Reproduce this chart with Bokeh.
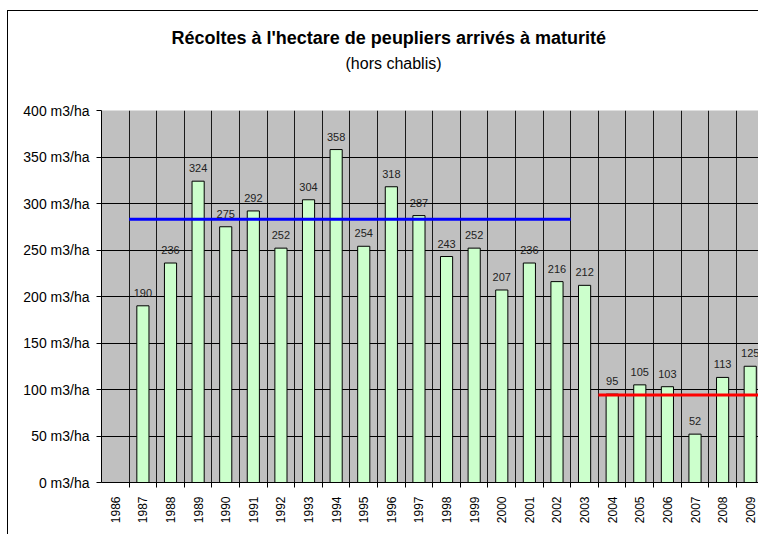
import math
from bokeh.plotting import figure
from bokeh.models import (Range1d, FixedTicker, PrintfTickFormatter, ColumnDataSource,
                          Title, LabelSet, InlineStyleSheet)
from bokeh.core.properties import value
from bokeh.embed import file_html
from bokeh.resources import INLINE

# ---- data ----
years = [str(y) for y in range(1986, 2010)]
bar_years = [str(y) for y in range(1987, 2010)]
harvest = [190, 236, 324, 275, 292, 252, 304, 358, 254, 318, 287, 243, 252,
           207, 236, 216, 212, 95, 105, 103, 52, 113, 125]
y_ticks = [0, 50, 100, 150, 200, 250, 300, 350, 400]
blue_period = ("1987", "2003")
blue_value = 283
red_period = ("2004", "2009")
red_value = 94

title_text = "Récoltes à l'hectare de peupliers arrivés à maturité"
subtitle_text = "(hors chablis)"

FONT = "Liberation Sans"

idx = {y: i for i, y in enumerate(years)}
bx = [idx[y] for y in bar_years]
src = ColumnDataSource(dict(x=bx, top=harvest, lab=[str(v) for v in harvest]))

p = figure(width=758, height=534, output_backend="svg", toolbar_location=None,
           x_range=Range1d(-0.5, 23.3), y_range=Range1d(0, 400),
           min_border_left=101, min_border_right=0, min_border_top=110,
           min_border_bottom=52)
p.background_fill_color = "#C0C0C0"
p.border_fill_color = "white"
p.outline_line_color = None

# grids
centers = list(range(len(years)))
bounds = [i + 0.5 for i in range(len(years))]
p.xaxis.ticker = FixedTicker(ticks=centers, minor_ticks=bounds)
p.xaxis.major_label_overrides = {i: y for i, y in enumerate(years)}
p.xgrid.ticker = FixedTicker(ticks=centers, minor_ticks=bounds)
p.xgrid.grid_line_color = None
p.xgrid.minor_grid_line_color = "#1a1a1a"
p.xgrid.minor_grid_line_width = 1
p.yaxis.ticker = FixedTicker(ticks=y_ticks)
p.ygrid.ticker = FixedTicker(ticks=y_ticks)
p.ygrid.grid_line_color = "#000000"
p.ygrid.grid_line_width = 1

p.yaxis.formatter = PrintfTickFormatter(format="%d m3/ha")
p.yaxis.major_label_text_font = FONT
p.yaxis.major_label_text_font_size = "14px"
p.yaxis.major_label_text_color = "black"
p.yaxis.major_tick_out = 5
p.yaxis.major_tick_in = 0
p.yaxis.minor_tick_line_color = None
p.yaxis.axis_line_color = "black"
p.yaxis.major_label_standoff = 7

p.xaxis.major_label_text_font = FONT
p.xaxis.major_label_text_font_size = "12px"
p.xaxis.major_label_text_color = "black"
p.xaxis.major_label_orientation = math.pi / 2
p.xaxis.major_tick_out = 0
p.xaxis.major_tick_in = 0
p.xaxis.minor_tick_out = 5
p.xaxis.minor_tick_in = 0
p.xaxis.minor_tick_line_color = "black"
p.xaxis.axis_line_color = "black"
p.xaxis.major_label_standoff = 9

# bars
p.vbar(x="x", top="top", width=0.44, bottom=0, source=src,
       fill_color="#CCFFCC", line_color="black", line_width=1)

p.add_layout(LabelSet(x="x", y="top", text="lab", source=src, text_align="center",
                      text_baseline="alphabetic", y_offset=9,
                      text_font=value(FONT), text_font_size=value("11px"),
                      text_color="#222222"))

# mean lines
p.line([idx[blue_period[0]] - 0.5, idx[blue_period[1]] - 0.5], [blue_value, blue_value],
       line_color="#0000FF", line_width=3)
p.line([idx[red_period[0]] - 0.5, idx[red_period[1]] + 0.5], [red_value, red_value],
       line_color="#FF0000", line_width=3)

# titles: spacer (closest to frame), subtitle, then main title
p.add_layout(Title(text=" ", align="left", standoff=35, text_font=FONT,
                   text_font_size="1px"), "above")
p.add_layout(Title(text=subtitle_text, align="left", offset=244, standoff=2,
                   text_font=FONT, text_font_size="16px", text_font_style="normal",
                   text_color="black"), "above")
p.add_layout(Title(text=title_text, align="left", offset=70, standoff=8,
                   text_font=FONT, text_font_size="18px", text_font_style="bold",
                   text_color="black"), "above")

# outer chart border (left and top edges visible; rest is cut off in the reference)
p.stylesheets = [InlineStyleSheet(css=(
    ":host::after{content:'';position:absolute;left:7px;top:10px;right:0;bottom:0;"
    "border-left:1px solid black;border-top:1px solid black;pointer-events:none;}"
    ":host{position:relative;}"))]

open("out.html", "w").write(file_html(p, INLINE))
